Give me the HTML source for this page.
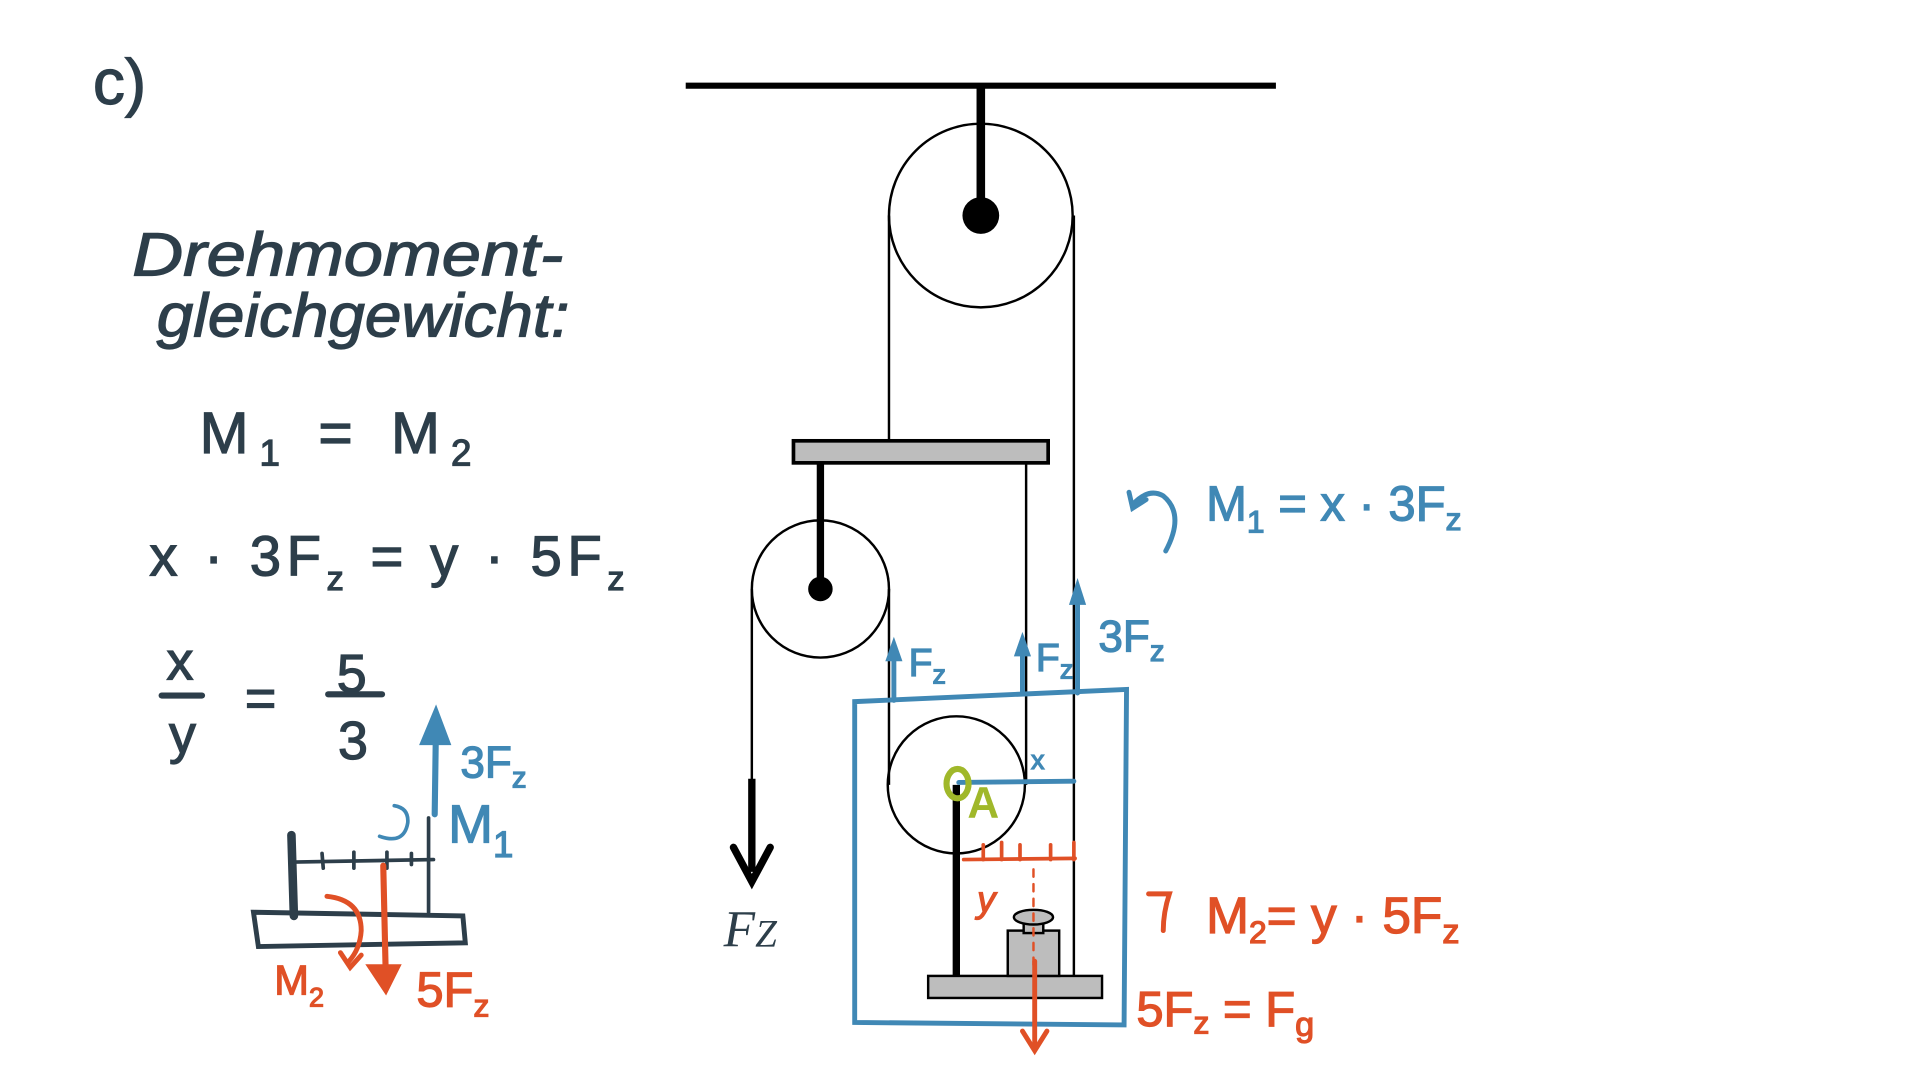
<!DOCTYPE html>
<html><head><meta charset="utf-8"><style>
html,body{margin:0;padding:0;background:#fff;width:1920px;height:1080px;overflow:hidden}
svg{display:block}
.h{font-family:"Liberation Sans",sans-serif;fill:#2d3e4a;stroke:#2d3e4a;stroke-width:1}
.b{font-family:"Liberation Sans",sans-serif;fill:#4088b5;stroke:#4088b5;stroke-width:1}
.r{font-family:"Liberation Sans",sans-serif;fill:#e05026;stroke:#e05026;stroke-width:1}
</style></head><body>
<svg width="1920" height="1080" viewBox="0 0 1568 882" xmlns="http://www.w3.org/2000/svg">
<text x="76" y="85" class="h" font-size="52">c)</text>
<text x="108" y="225" class="h" font-size="50" font-style="italic" textLength="352" lengthAdjust="spacingAndGlyphs">Drehmoment-</text>
<text x="128" y="275" class="h" font-size="50" font-style="italic" textLength="337" lengthAdjust="spacingAndGlyphs">gleichgewicht:</text>
<text x="163" y="370" class="h" font-size="48" textLength="222" lengthAdjust="spacing">M<tspan font-size="30" dy="10">1</tspan><tspan dy="-10"> = M</tspan><tspan font-size="30" dy="10">2</tspan></text>
<text x="122" y="470" class="h" font-size="46" textLength="388" lengthAdjust="spacing">x · 3F<tspan font-size="28" dy="12">z</tspan><tspan dy="-12"> = y · 5F</tspan><tspan font-size="28" dy="12">z</tspan></text>
<text x="136" y="555" class="h" font-size="44">x</text>
<line x1="132" y1="568" x2="165" y2="568" stroke="#2d3e4a" stroke-width="5" stroke-linecap="round"/>
<text x="138" y="615" class="h" font-size="44">y</text>
<text x="200" y="585" class="h" font-size="44">=</text>
<text x="275" y="565" class="h" font-size="44">5</text>
<line x1="268" y1="567" x2="312" y2="567" stroke="#2d3e4a" stroke-width="5" stroke-linecap="round"/>
<text x="276" y="620" class="h" font-size="44">3</text>
<g stroke="#2d3e4a" fill="none" stroke-linecap="round">
<line x1="238" y1="682" x2="240" y2="748" stroke-width="7"/>
<line x1="240" y1="704" x2="354" y2="702" stroke-width="3"/>
<g stroke-width="3"><line x1="263" y1="697" x2="264" y2="709"/><line x1="289" y1="696" x2="289" y2="709"/><line x1="316" y1="696" x2="316" y2="709"/><line x1="336" y1="697" x2="336" y2="706"/></g>
<line x1="350" y1="668" x2="350" y2="745" stroke-width="3"/>
<path d="M207 745 L378 748 L380 770 L211 773 Z" stroke-width="4"/>
</g>
<g stroke="#4088b5" fill="none" stroke-linecap="round" stroke-width="5">
<line x1="355" y1="665" x2="356" y2="595"/>
<path d="M346 606 L356 582 L365 606 Z" fill="#4088b5"/>
<path d="M310 683 Q330 690 333 672 Q334 660 322 658" stroke-width="3"/>
</g>
<text x="376" y="635" class="b" font-size="36">3F<tspan font-size="24" dy="8">z</tspan></text>
<text x="366" y="688" class="b" font-size="44">M<tspan font-size="30" dy="12">1</tspan></text>
<g stroke="#e05026" fill="none" stroke-linecap="round" stroke-width="5">
<line x1="313" y1="707" x2="315" y2="795"/>
<path d="M303 790 L315 808 L324 790 Z" fill="#e05026"/>
<path d="M267 732 Q295 735 295 760 Q294 775 285 785" stroke-width="4"/>
<path d="M278 778 L286 790 L295 780" stroke-width="4"/>
</g>
<text x="224" y="812" class="r" font-size="34">M<tspan font-size="22" dy="10">2</tspan></text>
<text x="340" y="822" class="r" font-size="40">5F<tspan font-size="26" dy="8">z</tspan></text>

<line x1="560" y1="70" x2="1042" y2="70" stroke="#000" stroke-width="5"/>
<line x1="801" y1="70" x2="801" y2="176" stroke="#000" stroke-width="7"/>
<circle cx="801" cy="176" r="75" fill="none" stroke="#000" stroke-width="2"/>
<circle cx="801" cy="176" r="15" fill="#000"/>
<g stroke="#000" stroke-width="2">
<line x1="726" y1="176" x2="726" y2="360"/>
<line x1="877" y1="176" x2="877" y2="797"/>
<line x1="838" y1="378" x2="838" y2="641"/>
<line x1="726" y1="481" x2="726" y2="641"/>
<line x1="614" y1="481" x2="614" y2="640"/>
</g>
<rect x="648" y="360" width="208" height="18" fill="#bdbdbd" stroke="#000" stroke-width="3"/>
<line x1="670" y1="378" x2="670" y2="481" stroke="#000" stroke-width="6"/>
<circle cx="670" cy="481" r="56" fill="none" stroke="#000" stroke-width="2"/>
<circle cx="670" cy="481" r="10" fill="#000"/>
<line x1="614" y1="636" x2="614" y2="712" stroke="#000" stroke-width="6"/>
<path d="M599 692 L614 720 L629 692" fill="none" stroke="#000" stroke-width="6" stroke-linecap="round"/>
<text x="591" y="773" font-family="Liberation Serif,serif" font-style="italic" font-size="42" fill="#2d3e4a">F<tspan font-size="32">Z</tspan></text>
<circle cx="781" cy="641" r="56" fill="none" stroke="#000" stroke-width="2"/>
<line x1="781" y1="641" x2="781" y2="797" stroke="#000" stroke-width="6"/>
<rect x="758" y="797" width="142" height="18" fill="#bdbdbd" stroke="#000" stroke-width="2"/>
<rect x="823" y="760" width="42" height="37" fill="#bdbdbd" stroke="#000" stroke-width="2"/>
<rect x="836" y="752" width="16" height="10" fill="#bdbdbd" stroke="#000" stroke-width="2"/>
<ellipse cx="844" cy="749" rx="16" ry="6" fill="#bdbdbd" stroke="#000" stroke-width="2"/>

<g stroke="#4088b5" fill="none" stroke-linecap="round" stroke-width="4">
<path d="M698 573 L920 563 L918 837 L698 835 Z"/>
<line x1="730" y1="572" x2="730" y2="530"/>
<line x1="835" y1="566" x2="835" y2="528"/>
<line x1="880" y1="566" x2="880" y2="485"/>
<line x1="783" y1="639" x2="877" y2="638"/>
<path d="M952 450 Q968 420 950 405 Q938 398 925 412"/>
<path d="M922 402 L925 415 L936 408"/>
</g>
<g fill="#4088b5">
<path d="M723 540 L730 520 L737 540 Z"/><path d="M828 536 L835 516 L842 536 Z"/><path d="M873 494 L880 472 L887 494 Z"/>
</g>
<text x="742" y="552" class="b" font-size="32">F<tspan font-size="22" dy="6">z</tspan></text>
<text x="846" y="548" class="b" font-size="32">F<tspan font-size="22" dy="6">z</tspan></text>
<text x="897" y="532" class="b" font-size="36">3F<tspan font-size="24" dy="8">z</tspan></text>
<text x="842" y="628" class="b" font-size="22">x</text>
<text x="985" y="425" class="b" font-size="40">M<tspan font-size="26" dy="10">1</tspan><tspan dy="-10"> = x · 3F</tspan><tspan font-size="26" dy="8">z</tspan></text>
<ellipse cx="782" cy="640" rx="9" ry="12" fill="none" stroke="#a0b82a" stroke-width="5"/>
<text x="790" y="668" font-family="Liberation Sans,sans-serif" font-weight="bold" font-size="36" fill="#a0b82a">A</text>
<g stroke="#e05026" fill="none" stroke-linecap="round" stroke-width="3">
<line x1="787" y1="702" x2="878" y2="701"/>
<line x1="803" y1="690" x2="803" y2="702"/><line x1="818" y1="688" x2="818" y2="702"/><line x1="833" y1="690" x2="833" y2="702"/><line x1="858" y1="690" x2="858" y2="702"/><line x1="877" y1="688" x2="877" y2="702"/>
<line x1="844" y1="710" x2="844" y2="790" stroke-dasharray="6 6" stroke-width="2"/>
<line x1="845" y1="785" x2="845" y2="855" stroke-width="4"/>
<path d="M835 842 L845 858 L855 842" stroke-width="4"/>
<path d="M938 730 L955 730 Q950 745 950 760" stroke-width="4"/>
</g>
<text x="798" y="745" class="r" font-size="30" font-style="italic">y</text>
<text x="985" y="762" class="r" font-size="42">M<tspan font-size="26" dy="8">2</tspan><tspan dy="-8">= y · 5F</tspan><tspan font-size="28" dy="8">z</tspan></text>
<text x="928" y="838" class="r" font-size="40">5F<tspan font-size="26" dy="6">z</tspan><tspan dy="-6"> = F</tspan><tspan font-size="28" dy="8">g</tspan></text>
</svg>
</body></html>
